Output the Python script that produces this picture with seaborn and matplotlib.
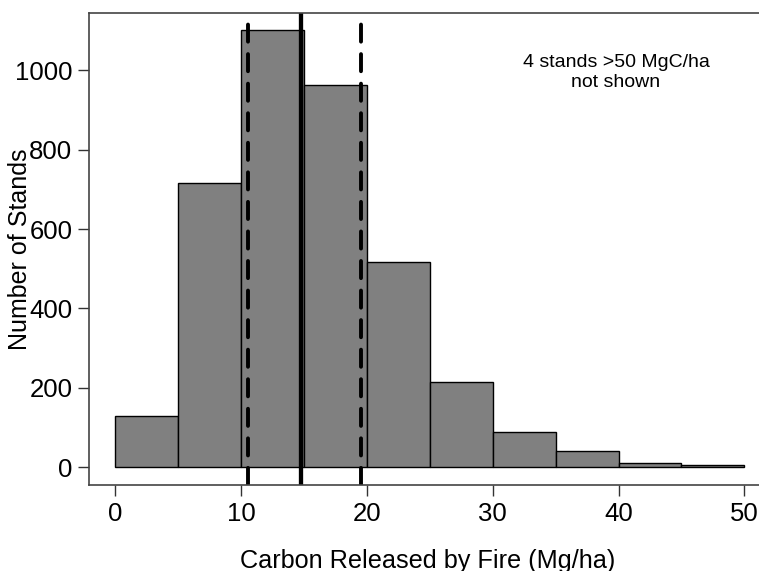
import numpy as np
import seaborn as sns
import matplotlib.pyplot as plt

# histogram bins (Mg/ha) and counts per bin
bin_edges = [0, 5, 10, 15, 20, 25, 30, 35, 40, 45, 50]
counts = [128, 717, 1101, 962, 518, 215, 89, 41, 12, 6]
# reference lines: median (solid) and quartiles (dashed)
median_c = 14.8
quartiles = [10.56, 19.5]

sns.set_style("white")
plt.rcParams["font.family"] = ["Liberation Sans", "DejaVu Sans"]
plt.rcParams["text.color"] = "black"
plt.rcParams["axes.labelcolor"] = "black"
plt.rcParams["xtick.color"] = "black"
plt.rcParams["ytick.color"] = "black"

centers = [(a + b) / 2 for a, b in zip(bin_edges[:-1], bin_edges[1:])]

fig = plt.figure(figsize=(7.59, 5.71), dpi=100)
ax = fig.add_axes([0.1173, 0.1506, 0.895, 0.8266])

sns.histplot(x=centers, weights=counts, bins=bin_edges, ax=ax,
             color="#808080", edgecolor="black", linewidth=1.0, alpha=1)

# median and quartiles
ax.axvline(median_c, color="black", lw=3.1)
for q in quartiles:
    ax.axvline(q, color="black", lw=2.8, linestyle=(0, (4.4, 3.2)),
               dash_capstyle="round")

ax.set_xlim(-2.07, 51.9)
ax.set_ylim(-44.6, 1144)
ax.set_xticks([0, 10, 20, 30, 40, 50])
ax.set_yticks([0, 200, 400, 600, 800, 1000])
ax.tick_params(axis="both", labelsize=18.5, length=8, width=1,
               color="#333333", direction="out", bottom=True, left=True, pad=4)

for s in ["left", "bottom", "top", "right"]:
    ax.spines[s].set_color("#444444")
    ax.spines[s].set_linewidth(1.2)

ax.set_xlabel("Carbon Released by Fire (Mg/ha)", fontsize=18.2, va="center")
ax.set_ylabel("Number of Stands", fontsize=18, va="center")
ax.xaxis.set_label_coords((428 - 89) / 679, -0.16)
ax.yaxis.set_label_coords(-0.1016, 0.5)

ax.text(39.8, 995, "4 stands >50 MgC/ha\nnot shown", ha="center", va="center",
        fontsize=14, linespacing=1.25)

fig.savefig("out.png", dpi=100)
